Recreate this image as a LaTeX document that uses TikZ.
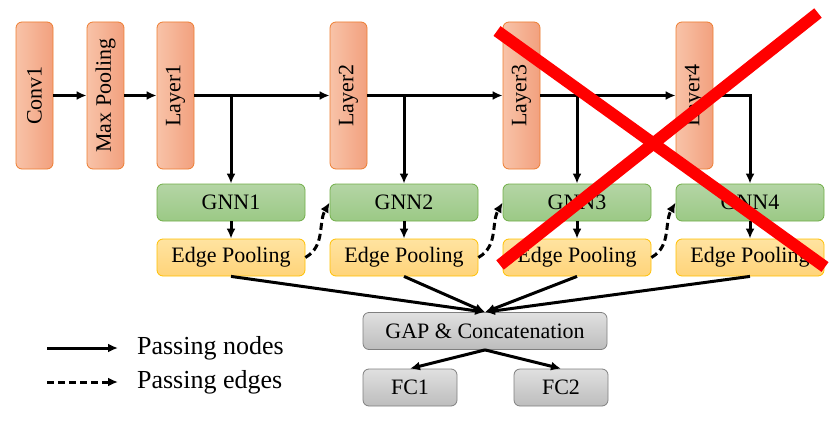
\documentclass[tikz,border=0pt]{standalone}
\usepackage{fontspec}
\setmainfont{Liberation Serif}
\usetikzlibrary{arrows.meta}

\definecolor{layerL}{HTML}{F8C3A8}
\definecolor{layerR}{HTML}{F2A07E}
\definecolor{layerD}{HTML}{ED7D31}
\definecolor{gnnT}{HTML}{B4D5A5}
\definecolor{gnnB}{HTML}{9BC985}
\definecolor{gnnD}{HTML}{70AD47}
\definecolor{poolT}{HTML}{FFE3A0}
\definecolor{poolB}{HTML}{FFD47A}
\definecolor{poolD}{HTML}{FFC000}
\definecolor{gapT}{HTML}{E0E0E0}
\definecolor{gapB}{HTML}{BDBDBD}
\definecolor{gapD}{HTML}{7F7F7F}

\begin{document}
\begin{tikzpicture}[x=0.5pt, y=-0.5pt, >={Latex[length=5pt,width=4.5pt]},
  font=\fontsize{11}{13}\selectfont,
  layer/.style={draw=layerD, rounded corners=3pt, rotate=90, inner sep=0pt,
    minimum width=73.5pt, minimum height=18.5pt, left color=layerL, right color=layerR},
  gnn/.style={draw=gnnD, rounded corners=3pt, inner sep=0pt,
    minimum width=74pt, minimum height=18.5pt, top color=gnnT, bottom color=gnnB},
  pool/.style={draw=poolD, rounded corners=3pt, inner sep=0pt,
    minimum width=74pt, minimum height=18.5pt, top color=poolT, bottom color=poolB},
  gap/.style={draw=gapD, rounded corners=3pt, inner sep=0pt,
    minimum height=18.5pt, top color=gapT, bottom color=gapB},
  pass/.style={draw, line width=1.5pt, ->},
  passedge/.style={pass, dash pattern=on 3.5pt off 2pt}]
\useasboundingbox (0,0) rectangle (838,422);

\node[layer] (conv1) at (34.5,95.5) {Conv1};
\node[layer] (maxpool) at (105.5,95.5) {Max Pooling};
\node[layer] (layer1) at (175.5,95.5) {Layer1};
\node[layer] (layer2) at (348.5,95.5) {Layer2};
\node[layer] (layer3) at (521.5,95.5) {Layer3};
\node[layer] (layer4) at (694.5,95.5) {Layer4};

\node[gnn] (gnn1) at (231,202.5) {GNN1};
\node[gnn] (gnn2) at (404,202.5) {GNN2};
\node[gnn] (gnn3) at (577,202.5) {GNN3};
\node[gnn] (gnn4) at (750,202.5) {GNN4};

\node[pool] (ep1) at (231,257.5) {Edge Pooling};
\node[pool] (ep2) at (404,257.5) {Edge Pooling};
\node[pool] (ep3) at (577,257.5) {Edge Pooling};
\node[pool] (ep4) at (750,257.5) {Edge Pooling};

\node[gap, minimum width=122pt] (gapcat) at (485,331) {GAP \& Concatenation};
\node[gap, minimum width=47pt] (fc1) at (410,387.5) {FC1};
\node[gap, minimum width=47pt] (fc2) at (561,387.5) {FC2};

% backbone
\path[pass] (conv1) -- (maxpool);
\path[pass] (maxpool) -- (layer1);
\path[pass] (layer1) -- (layer2);
\path[pass] (layer2) -- (layer3);
\path[pass] (layer3) -- (layer4);

% branches
\path[pass] (layer1.south -| gnn1.north) -- (gnn1.north);
\path[pass] (layer2.south -| gnn2.north) -- (gnn2.north);
\path[pass] (layer3.south -| gnn3.north) -- (gnn3.north);
\path[pass] (layer4.south) -| (gnn4.north);

\path[pass] (gnn1) -- (ep1);
\path[pass] (gnn2) -- (ep2);
\path[pass] (gnn3) -- (ep3);
\path[pass] (gnn4) -- (ep4);

\path[passedge] (ep1.east) to[out=30,in=240] (gnn2.west);
\path[passedge] (ep2.east) to[out=30,in=240] (gnn3.west);
\path[passedge] (ep3.east) to[out=30,in=240] (gnn4.west);

\path[pass] (ep1.south) -- (gapcat.north);
\path[pass] (ep2.south) -- (gapcat.north);
\path[pass] (ep3.south) -- (gapcat.north);
\path[pass] (ep4.south) -- (gapcat.north);

\path[pass] (gapcat.south) -- (fc1.north);
\path[pass] (gapcat.south) -- (fc2.north);

% legend
\coordinate (l1a) at (47,348);
\coordinate (l1b) at (118,348);
\coordinate (l2a) at (47,382);
\coordinate (l2b) at (118,382);
\path[pass] (l1a) -- (l1b);
\path[passedge] (l2a) -- (l2b);
\node[anchor=west, font=\fontsize{13}{15}\selectfont] (lnodes) at (130,348) {Passing nodes};
\node[anchor=west, font=\fontsize{13}{15}\selectfont] (ledges) at (130,382) {Passing edges};

% cross
\draw[red, line width=6pt] (497,31) -- (825,267);
\draw[red, line width=6pt] (818,13) -- (500,265);
\end{tikzpicture}
\end{document}
